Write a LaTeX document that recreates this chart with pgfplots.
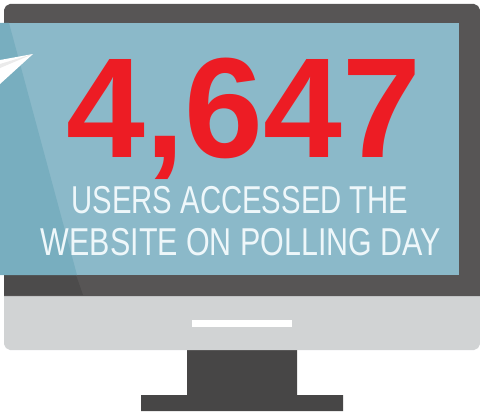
\documentclass[border=0pt]{standalone}
\usepackage{pgfplots}
\pgfplotsset{compat=1.18}
\usepackage{graphicx}
\usepackage{fontspec}
\setmainfont{Liberation Sans}
\definecolor{frame}{HTML}{575555}
\definecolor{frameshade}{HTML}{4C4B4B}
\definecolor{stand}{HTML}{474646}
\definecolor{chin}{HTML}{D1D3D4}
\definecolor{screen}{HTML}{8BB9C9}
\definecolor{screenshade}{HTML}{78AEBF}
\definecolor{bignum}{HTML}{ED1C24}
\definecolor{caption}{HTML}{EEF7FA}
\begin{document}
\begin{tikzpicture}
\begin{axis}[
    scale only axis,
    width=480bp,
    height=415bp,
    xmin=0, xmax=480,
    ymin=0, ymax=415,
    y dir=reverse,
    axis lines=none,
    clip=true,
]
\path[use as bounding box] (axis cs:0,0) rectangle (axis cs:480,415);
% stand and base
\addplot[fill=stand, draw=none] coordinates {
    (187,345) (297,345) (297,395) (343,395) (343,411) (141,411) (141,395) (187,395)
} -- cycle;
% chin
\addplot[fill=chin, draw=none] coordinates {
    (4,290) (480,290) (480,344) (478,348) (474,350) (10,350) (6,348) (4,344)
} -- cycle;
% bezel
\addplot[fill=frame, draw=none] coordinates {
    (4,296) (4,10) (6,6) (10,4) (474,4) (478,6) (480,10) (480,296)
} -- cycle;
\addplot[fill=frameshade, draw=none] coordinates {
    (4,275) (76,275) (83,295) (4,295)
} -- cycle;
% screen
\addplot[fill=screen, draw=none] coordinates {
    (0,23) (459,23) (459,275) (0,275)
} -- cycle;
\addplot[fill=screenshade, draw=none] coordinates {
    (0,23) (9,23) (77,275) (0,275)
} -- cycle;
% paper plane
\addplot[fill=white, draw=none] coordinates {
    (33,54) (0,60) (0,84)
} -- cycle;
\addplot[fill=black!8, draw=none] coordinates {
    (33,54) (0,64) (0,68)
} -- cycle;
% slot
\addplot[fill=white, draw=none] coordinates {
    (192,320) (292,320) (292,327) (192,327)
} -- cycle;
% text
\node[anchor=base, text=bignum, inner sep=0pt] at (axis cs:244,157)
    {\scalebox{0.995}[1]{\fontsize{143}{143}\selectfont\bfseries 4,647}};
\node[anchor=base, text=caption, inner sep=0pt] at (axis cs:240,213)
    {\scalebox{0.754}[1]{\fontsize{39}{39}\selectfont USERS ACCESSED THE}};
\node[anchor=base, text=caption, inner sep=0pt] at (axis cs:241,255)
    {\scalebox{0.783}[1]{\fontsize{39}{39}\selectfont WEBSITE ON POLLING DAY}};
\end{axis}
\end{tikzpicture}
\end{document}
